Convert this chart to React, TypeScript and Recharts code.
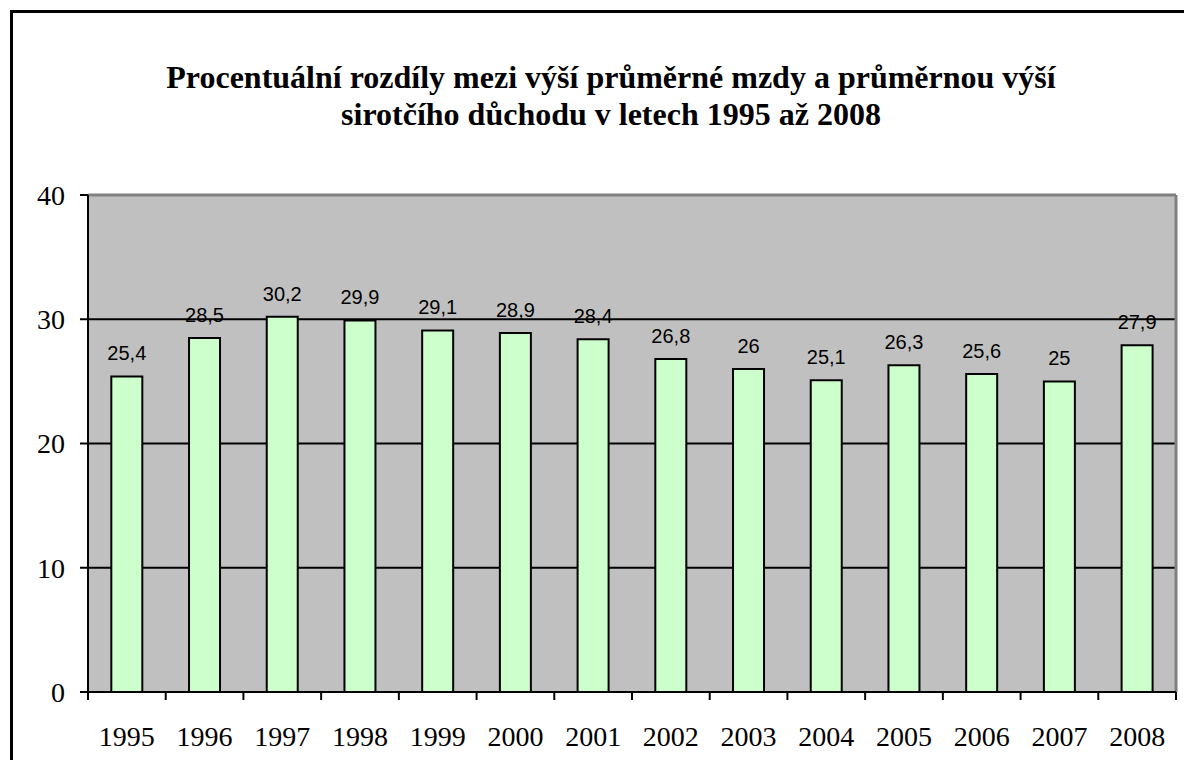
import React from "react";
import { BarChart, Bar, XAxis, YAxis, CartesianGrid, LabelList } from "recharts";

const years = ["1995","1996","1997","1998","1999","2000","2001","2002","2003","2004","2005","2006","2007","2008"];
const values = [25.4, 28.5, 30.2, 29.9, 29.1, 28.9, 28.4, 26.8, 26, 25.1, 26.3, 25.6, 25, 27.9];
const yTicks = [0, 10, 20, 30, 40];
const titleLines = [
  "Procentuální rozdíly mezi výší průměrné mzdy a průměrnou výší",
  "sirotčího důchodu v letech 1995 až 2008",
];

const data = years.map((y, i) => ({ year: y, value: values[i] }));

const serif = "Liberation Serif";
const sans = "Liberation Sans";
const X_TICK_SIZE = 8;
const X_TICK_MARGIN = 26;

function XTick(props: any) {
  const { x, y, payload, index } = props;
  const half = payload && typeof payload.offset === "number" ? payload.offset : 0;
  const axisY = y - X_TICK_MARGIN - X_TICK_SIZE;
  const isLast = index === years.length - 1;
  return (
    <g>
      <line x1={x - half} x2={x - half} y1={axisY} y2={axisY + X_TICK_SIZE} stroke="#000" strokeWidth={2} />
      {isLast && (
        <line x1={x + half} x2={x + half} y1={axisY} y2={axisY + X_TICK_SIZE} stroke="#000" strokeWidth={2} />
      )}
      <text x={x} y={y} dy="0.71em" textAnchor="middle" fill="#000" fontSize={28} fontFamily={serif}>
        {payload.value}
      </text>
    </g>
  );
}

function YTick(props: any) {
  const { x, y, payload } = props;
  return (
    <text x={x} y={y} dy="0.355em" textAnchor="end" fill="#000" fontSize={28} fontFamily={serif}>
      {payload.value}
    </text>
  );
}

export default function App() {
  return (
    <div style={{ position: "absolute", left: 0, top: 0, width: 1184, height: 760, overflow: "hidden", background: "#fff" }}>
      <div style={{ position: "absolute", left: 10, top: 10, width: 1300, height: 900, border: "3px solid #000", boxSizing: "border-box" }} />
      <div style={{ position: "absolute", left: 111, top: 59, width: 1000, textAlign: "center", fontFamily: serif, fontWeight: "bold", fontSize: 32, lineHeight: "37px", color: "#000" }}>
        {titleLines[0]}
        <br />
        {titleLines[1]}
      </div>
      <div style={{ position: "absolute", left: 0, top: 0 }}>
        <BarChart width={1184} height={760} data={data} margin={{ top: 195, right: 8, bottom: 0, left: 0 }} barCategoryGap="30%">
          <CartesianGrid vertical={false} stroke="#000" strokeWidth={2} fill="#C0C0C0" fillOpacity={1} />
          <CartesianGrid
            horizontal={true}
            vertical={true}
            stroke="#808080"
            strokeWidth={3}
            horizontalCoordinatesGenerator={(p: any) => [p.offset.top]}
            verticalCoordinatesGenerator={(p: any) => [p.offset.left + p.offset.width]}
          />
          <XAxis
            dataKey="year"
            height={68}
            tickLine={false}
            tickSize={X_TICK_SIZE}
            tickMargin={X_TICK_MARGIN}
            axisLine={{ stroke: "#000", strokeWidth: 2 }}
            interval={0}
            tick={<XTick />}
          />
          <YAxis
            width={88}
            domain={[0, 40]}
            ticks={yTicks}
            interval={0}
            tickSize={8}
            tickMargin={15}
            tickLine={{ stroke: "#000", strokeWidth: 2 }}
            axisLine={{ stroke: "#000", strokeWidth: 2 }}
            tick={<YTick />}
          />
          <Bar dataKey="value" fill="#CCFFCC" stroke="#000" strokeWidth={2} isAnimationActive={false}>
            <LabelList
              dataKey="value"
              position="top"
              offset={16}
              formatter={(v: any) => String(v).replace(".", ",")}
              style={{ fill: "#000", fontSize: 20, fontFamily: sans }}
            />
          </Bar>
        </BarChart>
      </div>
    </div>
  );
}
